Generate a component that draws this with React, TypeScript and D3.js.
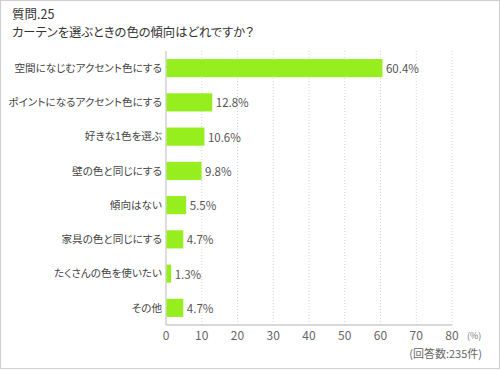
import React from "react";
import * as d3 from "d3";

const categories = [
  "空間になじむアクセント色にする",
  "ポイントになるアクセント色にする",
  "好きな1色を選ぶ",
  "壁の色と同じにする",
  "傾向はない",
  "家具の色と同じにする",
  "たくさんの色を使いたい",
  "その他",
];
const values = [60.4, 12.8, 10.6, 9.8, 5.5, 4.7, 1.3, 4.7];
const ticks = [0, 10, 20, 30, 40, 50, 60, 70, 80];
const titleLine1 = "質問.25";
const titleLine2 = "カーテンを選ぶときの色の傾向はどれですか？";
const unitLabel = "(%)";
const noteLabel = "(回答数:235件)";

const W = 500;
const H = 370;
const font = "'Noto Sans CJK JP', sans-serif";

export default function App() {
  const x = d3.scaleLinear().domain([0, 80]).range([166, 452]);
  const y = d3.scaleBand<string>().domain(categories).range([51, 325]).paddingInner(0.47).paddingOuter(0.235);
  const axisY = 325;
  return (
    <svg width={W} height={H} style={{ position: "absolute", left: 0, top: 0, fontFamily: font }}>
      <rect x={0.5} y={0.5} width={499} height={368} fill="#fff" stroke="#cfcfcf" />
      <text x={12} y={19} fontSize={12.5} fill="#333">{titleLine1}</text>
      <text x={12} y={37} fontSize={12.3} fill="#333" style={{ fontFeatureSettings: "'palt'" }}>{titleLine2}</text>
      {ticks.slice(1).map((t) => (
        <line key={t} x1={x(t)} x2={x(t)} y1={51} y2={axisY} stroke="#d4d4d4" strokeDasharray="1,2" />
      ))}
      <line x1={x(0)} x2={x(80)} y1={axisY} y2={axisY} stroke="#cccccc" strokeWidth={1.5} />
      <line x1={x(0)} x2={x(0)} y1={51} y2={axisY} stroke="#bbbbbb" />
      {categories.map((c, i) => (
        <g key={c}>
          <rect x={x(0) + 0.5} y={y(c)!} width={x(values[i]) - x(0)} height={y.bandwidth()} fill="#97ee1f" />
          <text x={162} y={y(c)! + y.bandwidth() / 2} dy="0.35em" textAnchor="end" fontSize={10.6} fill="#444" style={{ fontFeatureSettings: "'palt'" }}>{c}</text>
          <text x={x(values[i]) + 4} y={y(c)! + y.bandwidth() / 2 + 1} dy="0.35em" fontSize={11.5} fill="#555">{values[i]}%</text>
        </g>
      ))}
      {ticks.map((t) => (
        <text key={t} x={x(t)} y={336} dy="0.35em" textAnchor="middle" fontSize={12} fill="#666">{t}</text>
      ))}
      <text x={467} y={336} dy="0.35em" fontSize={9} fill="#777">{unitLabel}</text>
      <text x={482} y={354} dy="0.35em" textAnchor="end" fontSize={11} fill="#666">{noteLabel}</text>
    </svg>
  );
}
